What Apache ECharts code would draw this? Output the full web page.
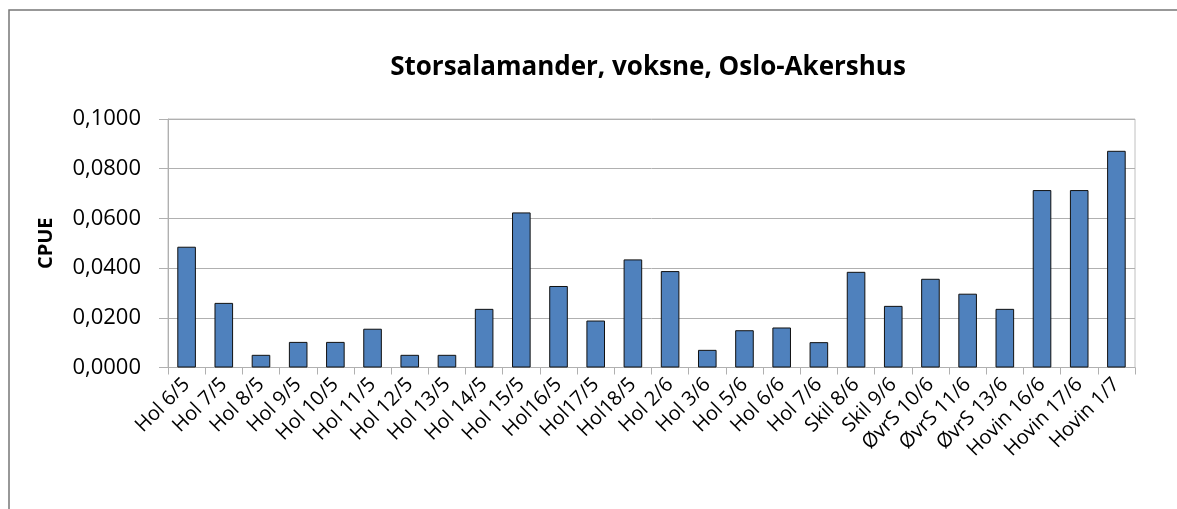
<!DOCTYPE html>
<html>
<head>
<meta charset="utf-8">
<script src="https://cdn.jsdelivr.net/npm/echarts@6/dist/echarts.min.js"></script>
<style>
  html, body { margin: 0; padding: 0; background: #fff; }
  #chart { width: 1177px; height: 509px; }
</style>
</head>
<body>
<div id="chart"></div>
<script>
// kategorier og CPUE-verdier
var titleText = 'Storsalamander, voksne, Oslo-Akershus'
var yName = 'CPUE'
var categories = ['Hol 6/5', 'Hol 7/5', 'Hol 8/5', 'Hol 9/5', 'Hol 10/5', 'Hol 11/5', 'Hol 12/5', 'Hol 13/5', 'Hol 14/5', 'Hol 15/5',
  'Hol16/5', 'Hol17/5', 'Hol18/5', 'Hol 2/6', 'Hol 3/6', 'Hol 5/6', 'Hol 6/6', 'Hol 7/6', 'Skil 8/6', 'Skil 9/6',
  'ØvrS 10/6', 'ØvrS 11/6', 'ØvrS 13/6', 'Hovin 16/6', 'Hovin 17/6', 'Hovin 1/7']
var cpue = [0.0486, 0.0260, 0.0051, 0.0103, 0.0103, 0.0156, 0.0051, 0.0051, 0.0236, 0.0624,
  0.0328, 0.0189, 0.0435, 0.0388, 0.0071, 0.0150, 0.0161, 0.0102, 0.0385, 0.0248,
  0.0357, 0.0297, 0.0236, 0.0714, 0.0714, 0.0872]
var yMin = 0
var yMax = 0.1
var yStep = 0.02

var font = '"Open Sans", sans-serif'
var myChart = echarts.init(document.getElementById('chart'))
myChart.setOption({
  animation: false,
  textStyle: { fontFamily: font },
  title: {
    text: titleText,
    left: 643,
    textAlign: 'center',
    top: 50,
    textStyle: { fontSize: 26, fontWeight: 'bold', color: '#000', fontFamily: font }
  },
  // ramme rundt diagrammet
  graphic: [{
    type: 'rect',
    shape: { x: 9, y: 10, width: 1250, height: 600 },
    style: { fill: 'none', stroke: '#777', lineWidth: 1.5 },
    silent: true
  }],
  grid: {
    left: 168, right: 42, top: 119, bottom: 141.5,
    show: true, borderColor: '#c0c0c0', borderWidth: 1
  },
  xAxis: {
    type: 'category',
    data: categories,
    axisLine: { lineStyle: { color: '#b0b0b0' } },
    axisTick: { show: true, alignWithLabel: false, length: 7, lineStyle: { color: '#b0b0b0' } },
    axisLabel: { rotate: 45, fontSize: 20, color: '#000', margin: 14, interval: 0, fontFamily: font }
  },
  yAxis: {
    type: 'value',
    min: yMin, max: yMax, interval: yStep,
    name: yName,
    nameLocation: 'middle',
    nameGap: 112,
    nameTextStyle: { fontSize: 20, fontWeight: 'bold', color: '#000', fontFamily: font },
    axisLine: { show: true, lineStyle: { color: '#b0b0b0' } },
    axisTick: { show: true, length: 9, lineStyle: { color: '#b0b0b0' } },
    splitLine: { lineStyle: { color: '#b0b0b0' } },
    axisLabel: {
      fontSize: 22, color: '#000', margin: 27, fontFamily: font,
      formatter: function (v) { return v.toFixed(4).replace('.', ',') }
    }
  },
  series: [{
    type: 'bar',
    data: cpue,
    barWidth: '50%',
    itemStyle: { color: '#4F81BD', borderColor: '#111', borderWidth: 1 }
  }]
})
</script>
</body>
</html>
